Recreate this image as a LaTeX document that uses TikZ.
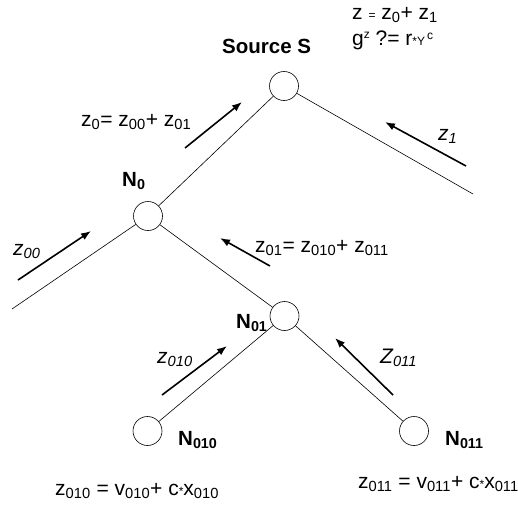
\documentclass[tikz,border=0pt]{standalone}
\usepackage{fontspec}
\setmainfont{Liberation Sans}
\usetikzlibrary{arrows.meta}
\newcommand{\sbs}[1]{\textsubscript{#1}}
\newcommand{\smallsym}[1]{{\fontsize{12}{12}\selectfont #1}}
\begin{document}
\begin{tikzpicture}[x=1pt,y=-1pt,>=Latex,
peer/.style={circle,draw,line width=0.6pt,minimum size=29pt,inner sep=0pt},
link/.style={draw,line width=0.6pt},
flow/.style={-{Latex[length=10pt,width=7.5pt]},line width=1.6pt},
lbl/.style={font=\fontsize{21}{24}\selectfont,inner sep=0pt,anchor=base west},
tag/.style={font=\fontsize{20.5}{24}\selectfont\bfseries,inner sep=0pt,anchor=base west}]
\useasboundingbox (0,0) rectangle (518,506);
% peers of the tree
\node[peer] (S) at (284,86) {};
\node[peer] (N0) at (148,216) {};
\node[peer] (N01) at (284.5,316) {};
\node[peer] (N010) at (147.5,431) {};
\node[peer] (N011) at (414,431) {};
\coordinate (Send) at (473,194);
\coordinate (N0end) at (12,309);
% links
\draw[link] (S) -- (N0);
\draw[link] (S) -- (Send);
\draw[link] (N0) -- (N0end);
\draw[link] (N0) -- (N01);
\draw[link] (N01) -- (N010);
\draw[link] (N01) -- (N011);
% flows of the shares
\draw[flow] (185,148) -- (242,102);
\draw[flow] (466,166) -- (385,122);
\draw[flow] (18,280) -- (91,231);
\draw[flow] (270,266) -- (220,238);
\draw[flow] (162,395) -- (227,346);
\draw[flow] (393,395) -- (335,338);
% labels
\node[tag] at (222,53) {Source S};
\node[tag] at (122,186) {N\sbs{0}};
\node[tag] at (236,328) {N\sbs{01}};
\node[tag] at (178,445) {N\sbs{010}};
\node[tag] at (445,445) {N\sbs{011}};
\node[lbl] at (352,19) {z \smallsym{=} z\sbs{0}+ z\sbs{1}};
\node[lbl] at (352,45) {g\smallsym{\raisebox{7pt}{z}} ?= r\smallsym{*Y\raisebox{6pt}{\,c}}};
\node[lbl] at (81,126) {z\sbs{0}= z\sbs{00}+ z\sbs{01}};
\node[lbl] at (438,140) {\itshape z\sbs{1}};
\node[lbl] at (13,255) {\itshape z\sbs{00}};
\node[lbl] at (255,252) {z\sbs{01}= z\sbs{010}+ z\sbs{011}};
\node[lbl] at (157,363) {\itshape z\sbs{010}};
\node[lbl] at (380,363) {\itshape Z\sbs{011}};
\node[lbl] at (55,495) {z\sbs{010} = v\sbs{010}+ c\smallsym{*}x\sbs{010}};
\node[lbl] at (358,488) {z\sbs{011} = v\sbs{011}+ c\smallsym{*}x\sbs{011}};
\end{tikzpicture}
\end{document}
